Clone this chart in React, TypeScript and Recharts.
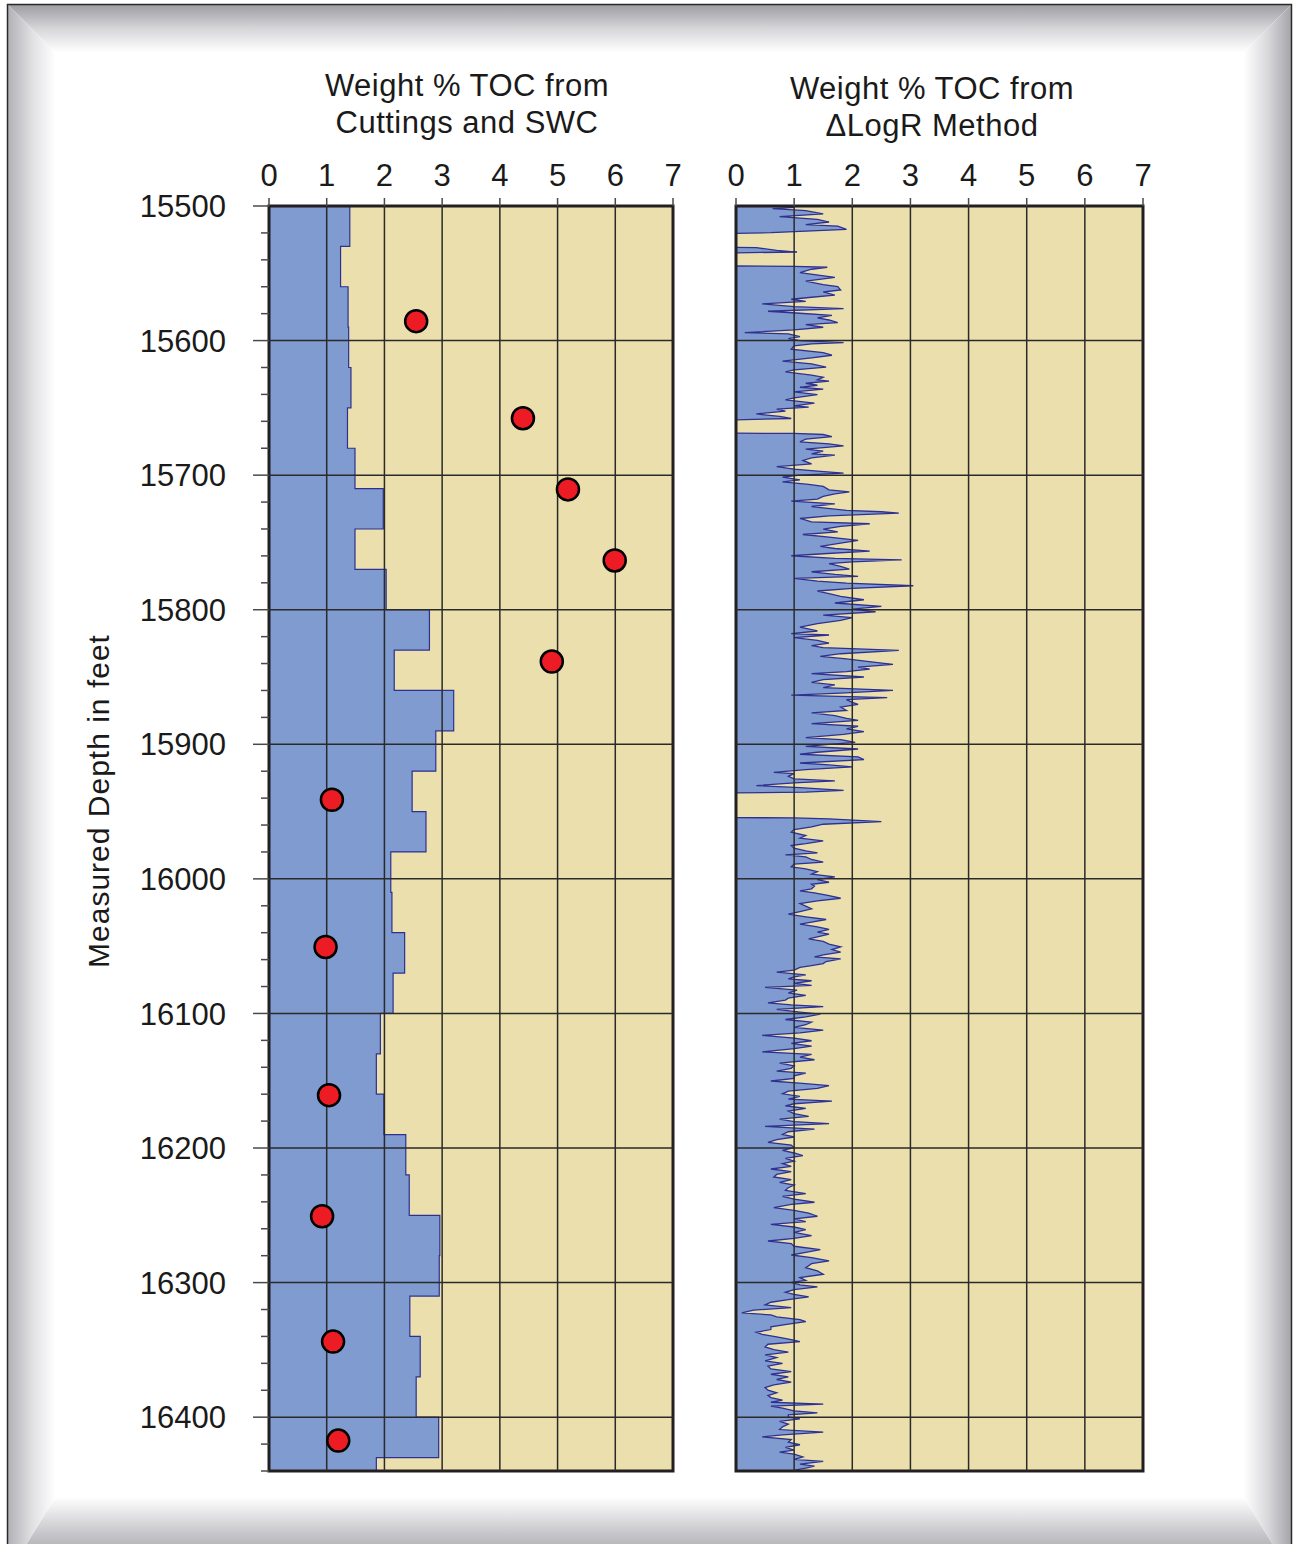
import React from 'react';
import {
  ComposedChart,
  Area,
  Scatter,
  XAxis,
  YAxis,
  CartesianGrid,
  ReferenceLine,
  ReferenceArea,
  Label,
} from 'recharts';

const FONT = '"Liberation Sans", Arial, Helvetica, sans-serif';
const TAN = '#EBE0AD';
const BLUE = '#7F9BCF';
const NAVY = '#2E3192';
const GRID = '#2A2A2A';
const BORDER = '#231F20';
const RED = '#ED1C24';
const TEXT = '#1A1A1A';

const tocTicks = [0, 1, 2, 3, 4, 5, 6, 7];
const depthMajor = [15500, 15600, 15700, 15800, 15900, 16000, 16100, 16200, 16300, 16400];
const depthMin = 15500;
const depthMax = 16440;

const leftTitle = ['Weight % TOC from', 'Cuttings and SWC'];
const rightTitle = ['Weight % TOC from', '\u0394LogR Method'];
const depthTitle = 'Measured Depth in feet';

// Cuttings TOC: top depth of each 30 ft interval and its value
const cuttingsTop = [
  15500, 15530, 15560, 15590, 15620, 15650, 15680, 15710, 15740, 15770, 15800, 15830, 15860, 15890, 15920, 15950,
  15980, 16010, 16040, 16070, 16100, 16130, 16160, 16190, 16220, 16250, 16280, 16310, 16340, 16370, 16400, 16430,
];
const cuttingsToc = [
  1.4, 1.24, 1.37, 1.38, 1.42, 1.36, 1.49, 1.98, 1.49, 2.03, 2.78, 2.17, 3.2, 2.89, 2.48, 2.72,
  2.11, 2.13, 2.35, 2.15, 1.93, 1.86, 1.99, 2.37, 2.43, 2.96, 2.95, 2.44, 2.62, 2.55, 2.94, 1.86,
];

// Sidewall core samples
const swcDepth = [15585.6, 15657.7, 15710.6, 15763.4, 15838.5, 15941.2, 16050.6, 16160.7, 16250.7, 16343.8, 16417.4];
const swcToc = [2.55, 4.4, 5.18, 5.99, 4.9, 1.09, 0.98, 1.04, 0.92, 1.11, 1.2];

// Delta LogR TOC log: [depth, TOC] (null = no data)
const deltaLogR: [number, number | null][] = [
  [15500, 1.0], [15501, 1.0], [15502, 0.63], [15503.5, 1.2], [15505.9, 1.5], [15507.9, 0.75], [15509.9, 1.4], [15511.9, 1.6],
  [15513.9, 1.2], [15514.9, 1.75], [15517.3, 1.9], [15518.3, 1.4], [15519.8, 0.6], [15520.3, 0],
  [15525, null],
  [15530.7, 0], [15531, 0.35], [15533, 0.7], [15534.2, 1.05], [15534.8, 0],
  [15540, null],
  [15544.6, 0], [15544.8, 1.0], [15545.5, 1.57], [15547, 1.3], [15549.5, 1.1], [15553, 1.7], [15555.9, 1.2], [15558.4, 1.5],
  [15559.9, 1.75], [15562.4, 1.8], [15563.9, 1.5], [15566.3, 1.7], [15567.8, 1.3], [15569.3, 0.95], [15570.8, 1.2],
  [15572.8, 0.45], [15574.8, 1.0], [15576.2, 1.85], [15578.2, 0.55], [15579.7, 1.1], [15581.2, 1.65], [15583.2, 1.4],
  [15584.7, 1.6], [15586.6, 1.75], [15588.1, 1.2], [15590.1, 1.5], [15592.1, 1.0], [15594.1, 0.15], [15595, 0.9],
  [15597, 1.1], [15598.5, 0.9], [15600, 1.1], [15601.5, 1.85], [15602.5, 1.3], [15604, 1.0], [15606.4, 0.95], [15608.9, 1.5],
  [15610.9, 1.65], [15612.9, 1.3], [15615.3, 0.8], [15617.3, 1.3], [15619.8, 1.55], [15621.8, 1.0], [15623.3, 0.85],
  [15625.7, 1.3], [15627.2, 1.5], [15629.2, 1.4], [15630.2, 1.6], [15631.7, 1.2], [15633.2, 1.4], [15634.7, 1.1],
  [15636.1, 1.5], [15638.1, 1.0], [15640.1, 1.4], [15642.6, 1.0], [15644.1, 0.85], [15646.5, 1.35], [15648.5, 1.0],
  [15649.5, 1.25], [15651, 0.7], [15652.5, 0.85], [15654.5, 0.35], [15656.4, 0.75], [15657.9, 0.95], [15658.9, 0],
  [15664, null],
  [15668.8, 0], [15669, 1.0], [15669.8, 1.5], [15671.3, 1.65], [15673.3, 1.2], [15675.2, 1.1], [15676.7, 1.6], [15678.2, 1.85],
  [15680.7, 1.2], [15682.2, 1.5], [15684.2, 1.3], [15685.1, 1.7], [15687.1, 1.3], [15689.1, 1.15], [15691.6, 1.3],
  [15693.6, 0.7], [15695.5, 1.0], [15697, 1.4], [15698.5, 1.85], [15700, 1.1], [15701.5, 0.8], [15703.5, 1.1], [15705, 0.8],
  [15706.9, 1.25], [15708.4, 1.5], [15710.9, 1.6], [15712.4, 1.95], [15713.9, 1.7], [15715.8, 1.5], [15717.8, 1.4],
  [15719.3, 0.95], [15721.3, 1.7], [15723.3, 1.3], [15724.3, 1.5], [15726.2, 1.9], [15727.2, 2.5], [15728.2, 2.8],
  [15730.2, 1.6], [15732.2, 1.1], [15734.7, 1.3], [15736.1, 2.3], [15738.1, 1.8], [15740.1, 1.5], [15742.1, 1.75],
  [15744.1, 1.15], [15746, 1.6], [15748.5, 2.1], [15750.5, 1.8], [15753, 1.45], [15754.5, 1.7], [15756.4, 2.3], [15758.4, 1.5],
  [15759.9, 0.95], [15761.9, 1.7], [15762.9, 2.85], [15764.4, 2.0], [15765.8, 1.6], [15767.8, 1.8], [15769.8, 1.95],
  [15771.8, 1.3], [15773.8, 1.7], [15775.2, 2.1], [15776.7, 1.0], [15778.7, 1.4], [15780.2, 1.9], [15782.2, 3.05],
  [15784.2, 2.0], [15786.1, 1.4], [15788.1, 1.6], [15790.1, 1.8], [15792.6, 2.2], [15795, 1.7], [15797.5, 2.5], [15799.5, 2.0],
  [15801.5, 2.4], [15804, 1.5], [15805.9, 2.0], [15807.9, 1.8], [15810.4, 1.4], [15812.9, 1.1], [15815.8, 1.4], [15817.8, 0.95],
  [15818.8, 1.6], [15820.8, 1.0], [15822.8, 1.4], [15824.8, 1.6], [15826.7, 1.3], [15828.2, 1.5], [15830.2, 2.8],
  [15832.7, 1.8], [15834.7, 1.45], [15836.6, 1.9], [15839.1, 2.4], [15840.6, 2.7], [15842.6, 2.1], [15844.1, 2.3],
  [15846, 1.9], [15847.5, 1.3], [15850, 2.2], [15852, 1.5], [15854, 1.3], [15855.9, 1.7], [15857.9, 1.5], [15859.9, 2.7],
  [15861.9, 1.8], [15863.4, 0.95], [15865.3, 2.6], [15866.8, 1.9], [15868.8, 2.0], [15870.3, 2.1], [15872.3, 1.8],
  [15874.8, 1.9], [15876.7, 1.3], [15878.7, 1.7], [15880.7, 1.9], [15882.2, 2.1], [15884.7, 1.3], [15886.6, 2.1],
  [15888.6, 1.9], [15890.6, 2.2], [15892.6, 1.85], [15895, 1.2], [15896.5, 1.8], [15898.5, 2.05], [15900, 1.6],
  [15901.5, 1.2], [15903.5, 2.1], [15905.9, 1.4], [15907.4, 1.1], [15909.4, 2.1], [15911.4, 2.2], [15913.9, 1.1],
  [15915.3, 1.6], [15916.8, 2.0], [15918.8, 1.2], [15920.8, 0.65], [15921.8, 1.0], [15923.8, 0.9], [15925.7, 1.0],
  [15927.2, 1.7], [15928.7, 1.0], [15930.7, 0.35], [15932.2, 1.1], [15934.2, 1.85], [15935.6, 1.2], [15936.1, 0],
  [15945, null],
  [15954.5, 0], [15954.7, 1.0], [15955.4, 1.6], [15957.4, 2.5], [15959.4, 1.5], [15961.4, 1.3], [15963.4, 1.0], [15965.3, 0.95],
  [15967.8, 1.2], [15969.8, 1.1], [15971.8, 1.5], [15973.8, 1.2], [15975.2, 0.95], [15977.2, 1.0], [15979.2, 1.2],
  [15980.7, 1.4], [15982.2, 0.85], [15983.7, 1.2], [15985.6, 1.3], [15987.6, 1.5], [15989.1, 1.0], [15991.1, 0.95],
  [15992.6, 1.2], [15994.6, 1.4], [15996.5, 1.3], [15998.5, 1.7], [16000.5, 1.4], [16002.5, 1.6], [16004, 1.3],
  [16005.4, 1.35], [16007.4, 1.3], [16008.9, 1.1], [16010.4, 1.35], [16012.4, 1.6], [16014.4, 1.8], [16016.3, 1.4],
  [16018.3, 1.1], [16020.3, 1.2], [16022.3, 1.3], [16024.3, 1.1], [16026.2, 0.9], [16028.2, 1.2], [16030.2, 1.55],
  [16032.2, 1.3], [16033.7, 1.1], [16035.6, 1.4], [16037.6, 1.6], [16039.6, 1.4], [16041.1, 1.6], [16043.1, 1.4],
  [16044.6, 1.25], [16046.5, 1.5], [16048.5, 1.6], [16050.5, 1.8], [16052.5, 1.65], [16054.5, 1.8], [16056.4, 1.5],
  [16057.9, 1.35], [16059.4, 1.8], [16061.4, 1.55], [16062.9, 1.5], [16064.4, 1.3], [16065.8, 1.1], [16067.8, 1.0],
  [16069.3, 0.7], [16071.3, 1.2], [16072.8, 1.0], [16074.3, 0.9], [16075.7, 1.3], [16077.7, 1.0], [16079.2, 1.3],
  [16080.7, 0.5], [16082.7, 1.05], [16084.7, 0.9], [16086.6, 1.2], [16088.6, 0.9], [16090.1, 0.85], [16092.1, 0.55],
  [16093.6, 0.95], [16095, 1.5], [16097, 0.7], [16099, 1.1], [16100.5, 1.45], [16102.5, 1.2], [16104.5, 0.85],
  [16106.4, 1.3], [16108.4, 1.2], [16110.4, 1.0], [16112.4, 1.5], [16114.4, 1.1], [16116.3, 0.45], [16118.3, 1.0],
  [16120.3, 1.3], [16122.3, 0.95], [16124.3, 1.3], [16126.2, 1.0], [16128.5, 0.45], [16130.4, 1.3], [16132.4, 1.1],
  [16134.4, 1.35], [16136.9, 0.75], [16138.9, 1.0], [16140.8, 0.95], [16142.8, 0.7], [16144.3, 1.2], [16146.3, 1.0],
  [16148.3, 1.0], [16150.2, 0.6], [16152.2, 1.2], [16153.7, 1.6], [16155.7, 1.4], [16157.7, 0.9], [16159.7, 0.8],
  [16161.6, 1.1], [16163.6, 0.9], [16165.1, 1.65], [16167.1, 1.0], [16168.6, 0.85], [16170.5, 1.2], [16172.5, 0.9],
  [16174.5, 1.0], [16176.5, 1.25], [16178.5, 0.75], [16180.4, 1.0], [16181.9, 1.6], [16183.9, 0.5], [16185.9, 1.35],
  [16187.9, 0.9], [16189.9, 0.8], [16191.8, 1.0], [16193.8, 0.7], [16195.8, 0.55], [16197.8, 0.95], [16199.8, 1.0],
  [16201.7, 0.8], [16203.7, 1.0], [16205.7, 1.15], [16207.7, 0.85], [16209.7, 1.0], [16211.6, 0.8], [16213.6, 0.95],
  [16215.6, 0.6], [16217.6, 0.95], [16219.6, 0.7], [16221.5, 0.65], [16223.5, 0.95], [16225.5, 0.75], [16227.5, 1.0],
  [16229.5, 0.9], [16231.4, 0.85], [16233.9, 1.2], [16235.9, 0.8], [16237.9, 1.0], [16240.3, 1.35], [16241.8, 0.95],
  [16244.3, 0.65], [16246.3, 1.0], [16248.3, 1.25], [16250.7, 1.4], [16252.7, 1.0], [16254.7, 1.2], [16256.7, 0.6],
  [16258.7, 1.0], [16260.6, 1.2], [16262.6, 1.0], [16265.1, 1.3], [16267.1, 1.0], [16269.1, 0.55], [16271, 0.95],
  [16273, 1.0], [16275.5, 1.45], [16277.5, 1.2], [16279.5, 0.95], [16281.4, 1.3], [16283.9, 1.6], [16285.9, 1.3],
  [16288.9, 1.2], [16291.3, 1.4], [16293.8, 1.5], [16296.3, 1.1], [16298.3, 1.2], [16299.8, 0.95], [16301.7, 1.1],
  [16303.2, 1.4], [16305.2, 1.0], [16307.2, 0.85], [16308.7, 1.0], [16310.6, 1.25], [16312.6, 0.9], [16314.6, 0.6],
  [16316.6, 0.5], [16318.6, 0.95], [16320.5, 0.3], [16322.5, 0.1], [16324, 0.6], [16325.5, 0.7], [16327.5, 1.1],
  [16329, 1.2], [16330.9, 0.9], [16332.9, 0.6], [16334.9, 0.6], [16336.9, 0.35], [16338.4, 0.45], [16340.3, 0.7],
  [16342.3, 0.95], [16343.8, 1.1], [16345.8, 0.55], [16347.8, 0.5], [16349.8, 0.65], [16351.7, 0.9], [16353.7, 0.5],
  [16355.7, 0.7], [16358.2, 0.5], [16360.1, 0.8], [16362.1, 0.55], [16364.1, 0.6], [16366.1, 0.95], [16368.1, 0.6],
  [16370, 0.9], [16372, 0.7], [16374, 0.95], [16376, 0.65], [16378, 0.5], [16379.9, 0.55], [16381.9, 0.7], [16383.9, 0.55],
  [16385.4, 0.6], [16387.4, 0.8], [16388.9, 0.6], [16390.3, 1.5], [16391.8, 0.6], [16393.3, 0.8], [16395.3, 1.0],
  [16396.8, 1.4], [16398.3, 0.9], [16399.8, 0.9], [16401.2, 1.1], [16403.2, 0.75], [16405.2, 0.9], [16407.2, 0.8],
  [16409.2, 0.75], [16411.1, 1.5], [16413.1, 0.8], [16414.6, 0.45], [16416.6, 0.95], [16418.6, 0.9], [16420.5, 1.1],
  [16422.5, 0.85], [16424.5, 1.0], [16426, 0.75], [16427.5, 1.0], [16429.5, 1.15], [16431.4, 1.0], [16432.9, 1.5],
  [16434.9, 1.1], [16436.4, 1.35], [16437.9, 1.2], [16439.4, 1.0], [16440, 1.0],
];

// ---- tables built from the arrays above ----
const cuttingsRows: { depth: number; toc: number }[] = [];
cuttingsTop.forEach((top, i) => {
  const bottom = i + 1 < cuttingsTop.length ? cuttingsTop[i + 1] : depthMax;
  cuttingsRows.push({ depth: top, toc: cuttingsToc[i] });
  cuttingsRows.push({ depth: bottom, toc: cuttingsToc[i] });
});
const swcRows = swcDepth.map((d, i) => ({ depth: d, toc: swcToc[i] }));
const logRows = deltaLogR.map(([d, v]) => ({ depth: d, toc: v }));

const depthTicks: number[] = [];
for (let d = depthMin; d <= depthMax; d += 20) depthTicks.push(d);

const CHART_H = 1500;
const MARGIN_TOP = 166;
const MARGIN_BOTTOM = 29;
const XAXIS_H = 40;

const DepthTick = (props: any) => {
  const { x, y, payload } = props;
  const major = payload.value % 100 === 0;
  return (
    <g>
      <line x1={x - (major ? 16 : 8)} x2={x} y1={y} y2={y} stroke="#4a4a4a" strokeWidth={1.5} />
      {major && (
        <text x={x - 43} y={y} dy="0.36em" textAnchor="end" fontSize={31} fontFamily={FONT} fill={TEXT}>
          {payload.value}
        </text>
      )}
    </g>
  );
};

const SwcDot = (props: any) => {
  const { cx, cy } = props;
  if (cx == null || cy == null) return null;
  return <circle cx={cx} cy={cy} r={11} fill={RED} stroke="#000" strokeWidth={2.5} />;
};

const gridLines = (majorY: number[]) => [
  ...tocTicks.slice(1, -1).map((v) => (
    <ReferenceLine key={'vx' + v} x={v} stroke={GRID} strokeWidth={1.5} />
  )),
  ...majorY.slice(1).map((d) => (
    <ReferenceLine key={'hy' + d} y={d} stroke={GRID} strokeWidth={1.5} />
  )),
];

const xAxisProps = {
  type: 'number' as const,
  dataKey: 'toc',
  orientation: 'top' as const,
  domain: [0, 7],
  ticks: tocTicks,
  interval: 0 as const,
  height: XAXIS_H,
  tickSize: 8,
  tickMargin: 12,
  axisLine: false,
  allowDataOverflow: true,
  tick: { fontSize: 31, fill: TEXT, fontFamily: FONT },
  tickLine: { stroke: '#4a4a4a', strokeWidth: 1.5 },
};

function LeftPanel() {
  return (
    <ComposedChart
      layout="vertical"
      width={700}
      height={CHART_H}
      data={cuttingsRows}
      margin={{ top: MARGIN_TOP, right: 27, bottom: MARGIN_BOTTOM, left: 0 }}
    >
      <CartesianGrid horizontal={false} vertical={false} fill={TAN} fillOpacity={1} />
      <XAxis {...xAxisProps} />
      <YAxis
        type="number"
        dataKey="depth"
        domain={[depthMin, depthMax]}
        ticks={depthTicks}
        interval={0}
        width={269}
        tickSize={0}
        tickMargin={0}
        axisLine={false}
        tickLine={false}
        allowDataOverflow
        tick={DepthTick}
      >
        <Label
          content={() => (
            <text
              x={98}
              y={801}
              transform="rotate(-90 98 801)"
              textAnchor="middle"
              dominantBaseline="central"
              fontSize={30}
              letterSpacing={1}
              fontFamily={FONT}
              fill={TEXT}
            >
              {depthTitle}
            </text>
          )}
        />
      </YAxis>
      <Area
        dataKey="toc"
        type="linear"
        stroke={NAVY}
        strokeWidth={1.2}
        fill={BLUE}
        fillOpacity={1}
        dot={false}
        activeDot={false}
        isAnimationActive={false}
      />
      {gridLines(depthMajor)}
      <ReferenceArea x1={0} x2={7} y1={depthMin} y2={depthMax} fill="none" fillOpacity={0} stroke={BORDER} strokeWidth={3} />
      <Scatter data={swcRows} dataKey="depth" shape={SwcDot} isAnimationActive={false} />
    </ComposedChart>
  );
}

function RightPanel() {
  return (
    <ComposedChart
      layout="vertical"
      width={480}
      height={CHART_H}
      data={logRows}
      margin={{ top: MARGIN_TOP, right: 37, bottom: MARGIN_BOTTOM, left: 36 }}
    >
      <CartesianGrid horizontal={false} vertical={false} fill={TAN} fillOpacity={1} />
      <XAxis {...xAxisProps} />
      <YAxis type="number" dataKey="depth" domain={[depthMin, depthMax]} ticks={depthMajor} hide allowDataOverflow />
      <Area
        dataKey="toc"
        type="linear"
        stroke={NAVY}
        strokeWidth={1.3}
        fill={BLUE}
        fillOpacity={1}
        dot={false}
        activeDot={false}
        connectNulls={false}
        isAnimationActive={false}
      />
      {gridLines(depthMajor)}
      <ReferenceArea x1={0} x2={7} y1={depthMin} y2={depthMax} fill="none" fillOpacity={0} stroke={BORDER} strokeWidth={3} />
    </ComposedChart>
  );
}

function Frame() {
  const W = 1294;
  const H = 1544;
  const L = 7.5, T = 4.5, R = 1291.5, B = 1575;
  const bw = 48;
  return (
    <svg width={W} height={H} style={{ position: 'absolute', left: 0, top: 0 }}>
      <defs>
        <linearGradient id="gTop" x1="0" y1="0" x2="0" y2="1">
          <stop offset="0" stopColor="#9d9da2" />
          <stop offset="0.5" stopColor="#d6d6d9" />
          <stop offset="1" stopColor="#ffffff" />
        </linearGradient>
        <linearGradient id="gBottom" x1="0" y1="1" x2="0" y2="0">
          <stop offset="0" stopColor="#8e8e93" />
          <stop offset="0.55" stopColor="#c9c9cd" />
          <stop offset="1" stopColor="#ffffff" />
        </linearGradient>
        <linearGradient id="gLeft" x1="0" y1="0" x2="1" y2="0">
          <stop offset="0" stopColor="#b0b0b5" />
          <stop offset="0.5" stopColor="#dfdfe2" />
          <stop offset="1" stopColor="#ffffff" />
        </linearGradient>
        <linearGradient id="gRight" x1="1" y1="0" x2="0" y2="0">
          <stop offset="0" stopColor="#a4a4a9" />
          <stop offset="0.5" stopColor="#d9d9dc" />
          <stop offset="1" stopColor="#ffffff" />
        </linearGradient>
      </defs>
      <rect x={0} y={0} width={W} height={H} fill="#ffffff" />
      <polygon points={`${L},${T} ${R},${T} ${R - bw},${T + bw} ${L + bw},${T + bw}`} fill="url(#gTop)" />
      <polygon points={`${L},${B} ${R},${B} ${R - bw},${1497} ${L + bw},${1497}`} fill="url(#gBottom)" />
      <polygon points={`${L},${T} ${L + bw},${T + bw} ${L + bw},${1497} ${L},${B}`} fill="url(#gLeft)" />
      <polygon points={`${R},${T} ${R - bw},${T + bw} ${R - bw},${1497} ${R},${B}`} fill="url(#gRight)" />
      <rect x={L} y={T} width={R - L} height={B - T} fill="none" stroke="#2a2a2a" strokeWidth={1.5} />
    </svg>
  );
}

function Title({ lines, cx, top }: { lines: string[]; cx: number; top: number }) {
  return (
    <div
      style={{
        position: 'absolute',
        left: cx - 250,
        top,
        width: 500,
        textAlign: 'center',
        fontFamily: FONT,
        fontSize: 31,
        lineHeight: '37px',
        letterSpacing: '0.5px',
        color: TEXT,
      }}
    >
      {lines.map((l) => (
        <div key={l}>{l}</div>
      ))}
    </div>
  );
}

export default function App() {
  return (
    <div style={{ position: 'absolute', left: 0, top: 0, width: 1294, height: 1544, overflow: 'hidden', background: '#fff' }}>
      <Frame />
      <Title lines={leftTitle} cx={467} top={67} />
      <Title lines={rightTitle} cx={932} top={70} />
      <div style={{ position: 'absolute', left: 0, top: 0 }}>
        <LeftPanel />
      </div>
      <div style={{ position: 'absolute', left: 700, top: 0 }}>
        <RightPanel />
      </div>
    </div>
  );
}
